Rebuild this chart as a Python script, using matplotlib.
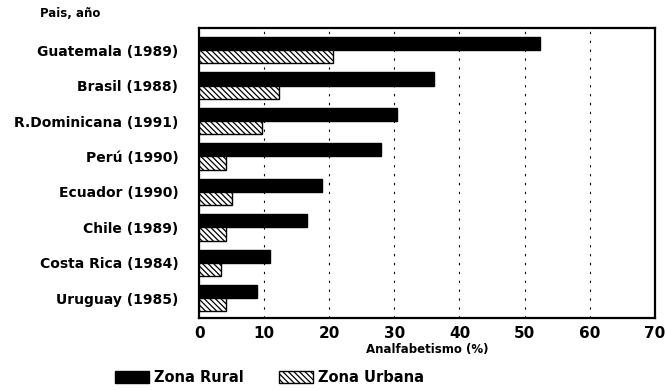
import numpy as np
import matplotlib
matplotlib.use("Agg")
from matplotlib import pyplot as plt
from matplotlib.patches import Patch

plt.rcParams['font.family'] = ['DejaVu Sans']
plt.rcParams['font.weight'] = 'bold'
plt.rcParams['hatch.linewidth'] = 0.9

# data
paises = ["Guatemala (1989)", "Brasil (1988)", "R.Dominicana (1991)", "Perú (1990)",
          "Ecuador (1990)", "Chile (1989)", "Costa Rica (1984)", "Uruguay (1985)"]
rural = [52.4, 36.1, 30.4, 28.0, 18.9, 16.6, 10.9, 8.9]
urbana = [20.6, 12.3, 9.7, 4.1, 5.1, 4.1, 3.4, 4.1]

fig = plt.figure(figsize=(6.66, 3.9), dpi=100)
ax = fig.add_axes([0.299, 0.185, 0.684, 0.743])

y = np.arange(len(paises))
h = 0.37
ax.barh(y - h / 2, rural, height=h, color='black', edgecolor='black', zorder=3)
ax.barh(y + h / 2, urbana, height=h, color='white', edgecolor='black',
        hatch='\\\\\\\\\\\\', linewidth=1.0, zorder=3)

ax.set_xlim(0, 70)
ax.set_ylim(len(paises) - 0.45, -0.62)
ax.set_xticks(np.arange(0, 71, 10))
ax.set_yticks(y)
ax.set_yticklabels(paises, fontsize=10, fontweight='bold')
ax.tick_params(axis='x', labelsize=11, length=0, pad=6)
ax.tick_params(axis='y', length=0, pad=15)
for lab in ax.get_xticklabels():
    lab.set_fontweight('bold')

ax.xaxis.grid(True, color='black', linestyle=(0, (2, 6)), linewidth=0.8, zorder=1)
for s in ax.spines.values():
    s.set_linewidth(1.6)

ax.set_xlabel("Analfabetismo (%)", fontsize=8.5, fontweight='bold', labelpad=1)
fig.text(0.06, 0.965, "Pais, año", fontsize=8.5, fontweight='bold', ha='left', va='center')

handles = [Patch(facecolor='black', edgecolor='black', label='Zona Rural'),
           Patch(facecolor='white', edgecolor='black', hatch='\\\\\\\\\\\\', label='Zona Urbana')]
fig.legend(handles=handles, loc='lower center', bbox_to_anchor=(0.405, -0.02), ncol=2,
           frameon=False, handlelength=2.3, handleheight=0.9,
           columnspacing=2.4, handletextpad=0.4, prop={'weight': 'bold', 'size': 10.5})

fig.savefig("out.png", dpi=100)
